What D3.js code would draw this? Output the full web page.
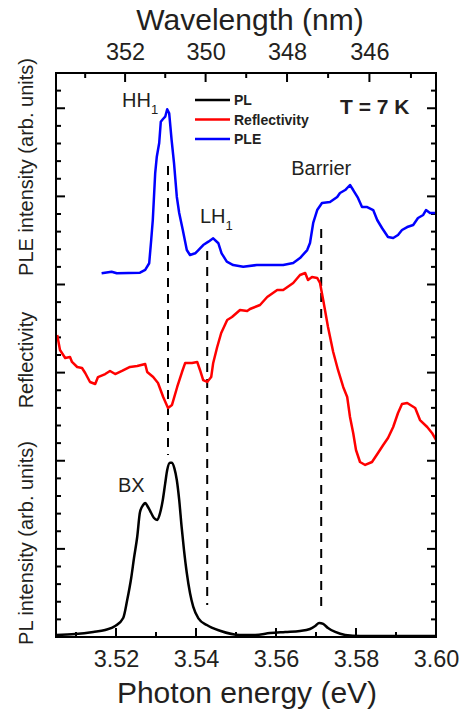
<!DOCTYPE html>
<html>
<head>
<meta charset="utf-8">
<script src="https://cdn.jsdelivr.net/npm/d3@7"></script>
<style>
  body { margin: 0; background: #fff; }
  svg { display: block; font-family: "Liberation Sans", Arial, sans-serif; }
</style>
</head>
<body>
<script>
// photon energy (eV) vs intensity (arb. units, stacked offsets)
const plData = [[3.5050,0.023],[3.5098,0.034],[3.5143,0.057],[3.5173,0.079],[3.5198,0.125],[3.5218,0.216],[3.5228,0.420],[3.5238,0.670],[3.5245,0.896],[3.5253,1.135],[3.5260,1.418],[3.5268,1.498],[3.5273,1.521],[3.5280,1.475],[3.5288,1.407],[3.5295,1.350],[3.5303,1.328],[3.5310,1.404],[3.5317,1.555],[3.5323,1.744],[3.5328,1.895],[3.5335,1.978],[3.5340,1.978],[3.5346,1.914],[3.5352,1.782],[3.5358,1.555],[3.5364,1.252],[3.5370,0.987],[3.5377,0.726],[3.5385,0.499],[3.5393,0.344],[3.5406,0.212],[3.5427,0.136],[3.5460,0.071],[3.5510,0.023],[3.5548,0.023],[3.5585,0.045],[3.5623,0.057],[3.5660,0.068],[3.5685,0.091],[3.5698,0.125],[3.5708,0.159],[3.5718,0.148],[3.5730,0.102],[3.5748,0.057],[3.5773,0.023],[3.5810,0.011],[3.5885,0.011],[3.6000,0.011]];

const reflData = [[3.5053,3.427],[3.5060,3.257],[3.5073,3.166],[3.5085,3.177],[3.5090,3.121],[3.5103,3.064],[3.5115,3.053],[3.5123,2.996],[3.5135,2.894],[3.5148,2.871],[3.5155,2.950],[3.5173,2.984],[3.5185,3.019],[3.5198,2.984],[3.5215,3.019],[3.5235,3.064],[3.5253,3.075],[3.5273,3.098],[3.5278,3.007],[3.5293,2.950],[3.5305,2.882],[3.5318,2.723],[3.5330,2.599],[3.5340,2.633],[3.5353,2.837],[3.5365,3.007],[3.5373,3.110],[3.5390,3.110],[3.5403,3.121],[3.5410,3.030],[3.5418,2.916],[3.5428,2.894],[3.5438,2.950],[3.5443,3.110],[3.5453,3.291],[3.5463,3.450],[3.5478,3.597],[3.5490,3.631],[3.5510,3.711],[3.5528,3.699],[3.5535,3.722],[3.5560,3.767],[3.5578,3.858],[3.5603,3.938],[3.5618,3.938],[3.5643,4.017],[3.5660,4.108],[3.5673,4.130],[3.5680,4.051],[3.5690,4.085],[3.5703,4.074],[3.5710,4.017],[3.5718,3.824],[3.5730,3.518],[3.5743,3.234],[3.5755,3.030],[3.5768,2.837],[3.5778,2.723],[3.5785,2.496],[3.5793,2.315],[3.5800,2.122],[3.5810,1.986],[3.5823,1.952],[3.5840,1.986],[3.5855,2.088],[3.5868,2.179],[3.5880,2.258],[3.5893,2.383],[3.5905,2.542],[3.5915,2.644],[3.5928,2.655],[3.5948,2.599],[3.5960,2.462],[3.5978,2.383],[3.5990,2.315],[3.6000,2.236]];

const pleData = [[3.5164,4.127],[3.5189,4.145],[3.5202,4.127],[3.5260,4.134],[3.5273,4.165],[3.5283,4.241],[3.5288,4.505],[3.5292,4.732],[3.5298,5.265],[3.5302,5.450],[3.5308,5.606],[3.5312,5.847],[3.5317,5.875],[3.5323,5.904],[3.5328,5.988],[3.5333,5.943],[3.5339,5.640],[3.5345,5.379],[3.5352,4.996],[3.5358,4.811],[3.5367,4.618],[3.5377,4.391],[3.5385,4.335],[3.5398,4.354],[3.5406,4.391],[3.5418,4.448],[3.5431,4.486],[3.5443,4.524],[3.5456,4.468],[3.5464,4.354],[3.5477,4.259],[3.5493,4.221],[3.5518,4.202],[3.5552,4.221],[3.5585,4.221],[3.5618,4.221],[3.5643,4.244],[3.5660,4.300],[3.5678,4.391],[3.5685,4.471],[3.5693,4.698],[3.5703,4.845],[3.5715,4.925],[3.5735,4.936],[3.5753,4.993],[3.5760,5.038],[3.5773,5.072],[3.5785,5.129],[3.5793,5.072],[3.5805,4.982],[3.5815,4.879],[3.5828,4.879],[3.5843,4.845],[3.5853,4.732],[3.5865,4.641],[3.5880,4.539],[3.5893,4.528],[3.5905,4.562],[3.5915,4.618],[3.5928,4.652],[3.5943,4.675],[3.5955,4.755],[3.5968,4.789],[3.5975,4.845],[3.5985,4.811],[3.6000,4.811]];

// dashed guides
const guideEnergy = [3.5330, 3.5428, 3.5713];
const guideTop = [5.345, 4.380, 4.630];
const guideBottom = [2.065, 0.363, 0.287];

// peak labels
const peakText = ["HH", "LH", "Barrier", "BX"];
const peakSub = ["1", "1", "", ""];
const peakEnergy = [3.5215, 3.5410, 3.5638, 3.5205];
const peakLevel = [6.014, 4.698, 5.243, 1.645];

// ticks
const hc = 1239.84;
const energyMajor = [3.52, 3.54, 3.56, 3.58, 3.60];
const energyMinor = [3.51, 3.53, 3.55, 3.57, 3.59];
const wavelengthMajor = [346, 348, 350, 352];
const wavelengthMinor = [345, 347, 349, 351, 353];
const levelMajor = [1, 2, 3, 4, 5, 6];
const levelMinor = d3.range(1, 32).filter(k => k % 5 !== 0).map(k => k * 0.2);

const legendNames = ["PL", "Reflectivity", "PLE"];
const legendColors = ["#000000", "#ff0000", "#0000ff"];

const W = 460, H = 715;
const plotL = 56, plotR = 436, plotT = 73, plotB = 637;
const majorLen = 9, minorLen = 5;
const textColor = "#231f20";

const svg = d3.select("body").append("svg").attr("width", W).attr("height", H);

const x = d3.scaleLinear().domain([3.505, 3.60]).range([plotL, plotR]);
const y = d3.scaleLinear().domain([0, 6.4]).range([plotB, plotT]);

// tick labels through d3 axes (no tick lines)
function labels(axis, pos, values, fmt) {
    const g = svg.append("g").attr("transform", `translate(0,${pos})`)
        .call(axis.tickValues(values).tickSize(0).tickPadding(13).tickFormat(fmt));
    g.select(".domain").remove();
    g.selectAll(".tick line").remove();
    g.selectAll(".tick text").attr("font-size", 23.5).attr("fill", textColor)
        .attr("font-family", "Liberation Sans, Arial, sans-serif");
}
labels(d3.axisBottom(x), plotB, energyMajor, d3.format(".2f"));
labels(d3.axisTop(x), plotT, wavelengthMajor.map(l => hc / l), d => Math.round(hc / d));

// inward tick marks
const ticks = svg.append("g").attr("stroke", "#000").attr("stroke-width", 2);
function hTicks(values, len) {
    values.forEach(v => {
        ticks.append("line").attr("x1", x(v)).attr("x2", x(v)).attr("y1", plotB).attr("y2", plotB - len);
        ticks.append("line").attr("x1", x(v)).attr("x2", x(v)).attr("y1", plotT).attr("y2", plotT + len);
    });
}
function topTicks(values, len) {
    values.forEach(l => {
        ticks.append("line").attr("x1", x(hc / l)).attr("x2", x(hc / l)).attr("y1", plotT).attr("y2", plotT + len);
    });
}
function vTicks(values, len) {
    values.forEach(v => {
        ticks.append("line").attr("x1", plotL).attr("x2", plotL + len).attr("y1", y(v)).attr("y2", y(v));
        ticks.append("line").attr("x1", plotR).attr("x2", plotR - len).attr("y1", y(v)).attr("y2", y(v));
    });
}
energyMajor.forEach(v => ticks.append("line").attr("x1", x(v)).attr("x2", x(v)).attr("y1", plotB).attr("y2", plotB - majorLen));
energyMinor.forEach(v => ticks.append("line").attr("x1", x(v)).attr("x2", x(v)).attr("y1", plotB).attr("y2", plotB - minorLen));
topTicks(wavelengthMajor, majorLen);
topTicks(wavelengthMinor, minorLen);
vTicks(levelMajor, majorLen);
vTicks(levelMinor, minorLen);

// dashed guides
svg.append("g").selectAll("line").data(guideEnergy).join("line")
    .attr("x1", d => x(d)).attr("x2", d => x(d))
    .attr("y1", (d, i) => y(guideTop[i])).attr("y2", (d, i) => y(guideBottom[i]))
    .attr("stroke", "#000").attr("stroke-width", 2).attr("stroke-dasharray", "9,7");

// curves
const linear = d3.line().x(d => x(d[0])).y(d => y(d[1]));
const smooth = d3.line().x(d => x(d[0])).y(d => y(d[1])).curve(d3.curveMonotoneX);

svg.append("path").datum(reflData).attr("d", linear)
    .attr("fill", "none").attr("stroke", legendColors[1]).attr("stroke-width", 2.5).attr("stroke-linejoin", "round");
svg.append("path").datum(pleData).attr("d", linear)
    .attr("fill", "none").attr("stroke", legendColors[2]).attr("stroke-width", 2.5).attr("stroke-linejoin", "round");
svg.append("path").datum(plData).attr("d", smooth)
    .attr("fill", "none").attr("stroke", legendColors[0]).attr("stroke-width", 2.5).attr("stroke-linejoin", "round");

// frame
svg.append("rect").attr("x", plotL).attr("y", plotT).attr("width", plotR - plotL).attr("height", plotB - plotT)
    .attr("fill", "none").attr("stroke", "#000").attr("stroke-width", 2);

// peak labels
const peaks = svg.append("g").attr("fill", textColor).attr("font-size", 20);
peakText.forEach((t, i) => {
    const txt = peaks.append("text").attr("x", x(peakEnergy[i])).attr("y", y(peakLevel[i])).text(t);
    if (peakSub[i]) txt.append("tspan").attr("font-size", 13).attr("dy", 7).text(peakSub[i]);
});

// legend
const legend = svg.append("g").attr("transform", "translate(195,100)");
legendNames.forEach((name, i) => {
    legend.append("line").attr("x1", 0).attr("x2", 35).attr("y1", i * 19.5).attr("y2", i * 19.5)
        .attr("stroke", legendColors[i]).attr("stroke-width", 2.5);
    legend.append("text").attr("x", 39).attr("y", i * 19.5).attr("dy", "0.36em")
        .attr("font-size", 14).attr("font-weight", "bold").attr("fill", textColor).text(name);
});

svg.append("text").attr("x", 340).attr("y", 114).attr("font-size", 21).attr("font-weight", "bold")
    .attr("fill", textColor).text("T = 7 K");

// axis titles
svg.append("text").attr("x", 250).attr("y", 30).attr("text-anchor", "middle")
    .attr("font-size", 30).attr("fill", textColor).text("Wavelength (nm)");
svg.append("text").attr("x", 247).attr("y", 703).attr("text-anchor", "middle")
    .attr("font-size", 30).attr("fill", textColor).text("Photon energy (eV)");

const yTitles = ["PLE intensity (arb. units)", "Reflectivity", "PL intensity (arb. units)"];
const yTitleCenter = [167, 360, 543];
yTitles.forEach((t, i) => {
    svg.append("text").attr("transform", `translate(33,${yTitleCenter[i]}) rotate(-90)`)
        .attr("text-anchor", "middle").attr("font-size", 20).attr("fill", textColor).text(t);
});
</script>
</body>
</html>
